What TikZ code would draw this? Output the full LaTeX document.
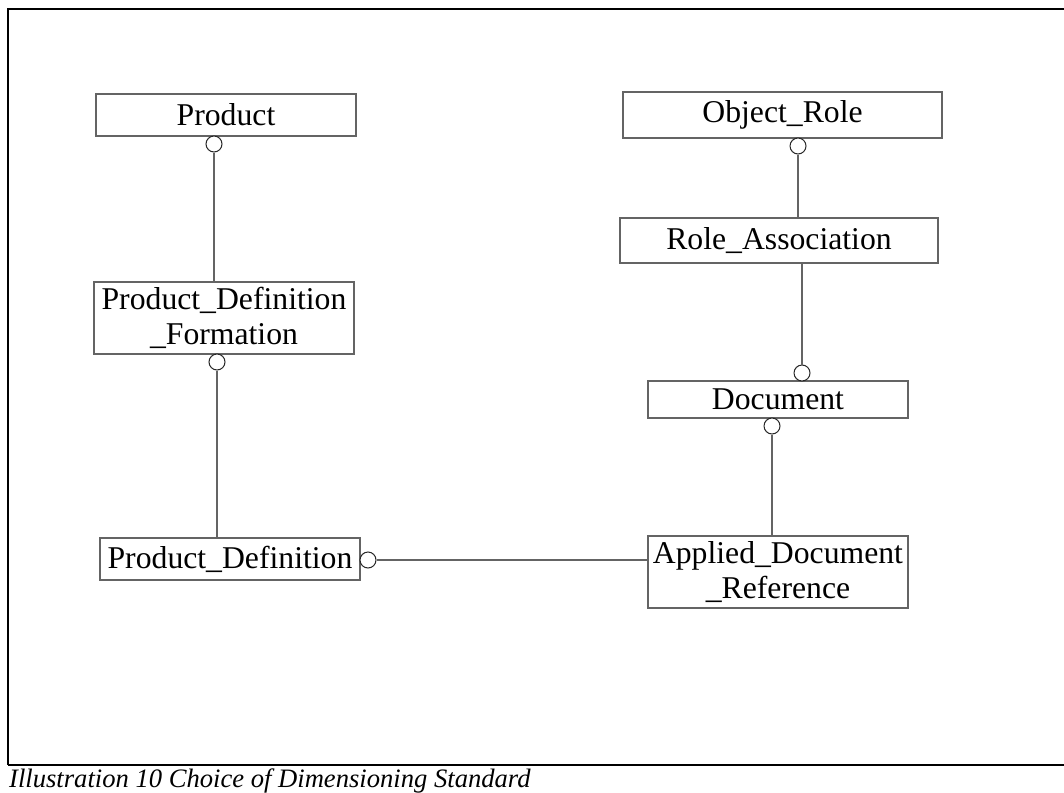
\documentclass[tikz,border=0pt]{standalone}
\usepackage{fontspec}
\setmainfont{Liberation Serif}
\begin{document}
\begin{tikzpicture}[x=1pt,y=-1pt,
  ent/.style={draw=linegray, line width=1.2pt, fill=white, inner sep=0pt, align=center,
    font=\fontsize{31.7}{35.5}\selectfont},
  opt/.style={draw=black!85, line width=1pt, circle, minimum size=16pt, inner sep=0pt, fill=white},
  conn/.style={draw=linegray, line width=1.3pt}]
\definecolor{linegray}{RGB}{100,100,100}
\useasboundingbox (0,0) rectangle (1064,792);
% frame
\draw[line width=2pt] (1064,9) -- (8,9) -- (8,765);
\draw[line width=1.3pt] (8,765) -- (1064,765);
\node[anchor=base west, inner sep=0pt, font=\fontsize{26.6}{28}\selectfont\itshape] (cap) at (9,787)
  {Illustration 10 Choice of Dimensioning Standard};
% entities
\node[ent, minimum width=260pt, minimum height=42pt] (prod) at (226,115) {Product};
\node[ent, minimum width=260pt, minimum height=72pt] (pdf) at (224,318) {Product\_Definition\\\_Formation};
\node[ent, minimum width=260pt, minimum height=42pt] (pd) at (230,559) {Product\_Definition};
\node[ent, minimum width=319pt, minimum height=46pt] (orole) at (782.5,115) {Object\_Role};
\node[ent, minimum width=318pt, minimum height=45pt] (ra) at (779,240.5) {Role\_Association};
\node[ent, minimum width=260pt, minimum height=37pt] (doc) at (778,399.5) {Document};
\node[ent, minimum width=260pt, minimum height=72pt] (adr) at (778,572) {Applied\_Document\\\_Reference};
% optional circles
\node[opt] (c1) at (214,144) {};
\node[opt] (c2) at (217,362) {};
\node[opt] (c3) at (368,560) {};
\node[opt] (c4) at (798,146) {};
\node[opt] (c5) at (802,373) {};
\node[opt] (c6) at (772,426) {};
% connectors
\draw[conn] (c1) -- (c1 |- pdf.north);
\draw[conn] (c2) -- (c2 |- pd.north);
\draw[conn] (c3) -- (c3 -| adr.west);
\draw[conn] (c4) -- (c4 |- ra.north);
\draw[conn] (c5 |- ra.south) -- (c5);
\draw[conn] (c6) -- (c6 |- adr.north);
\end{tikzpicture}
\end{document}
